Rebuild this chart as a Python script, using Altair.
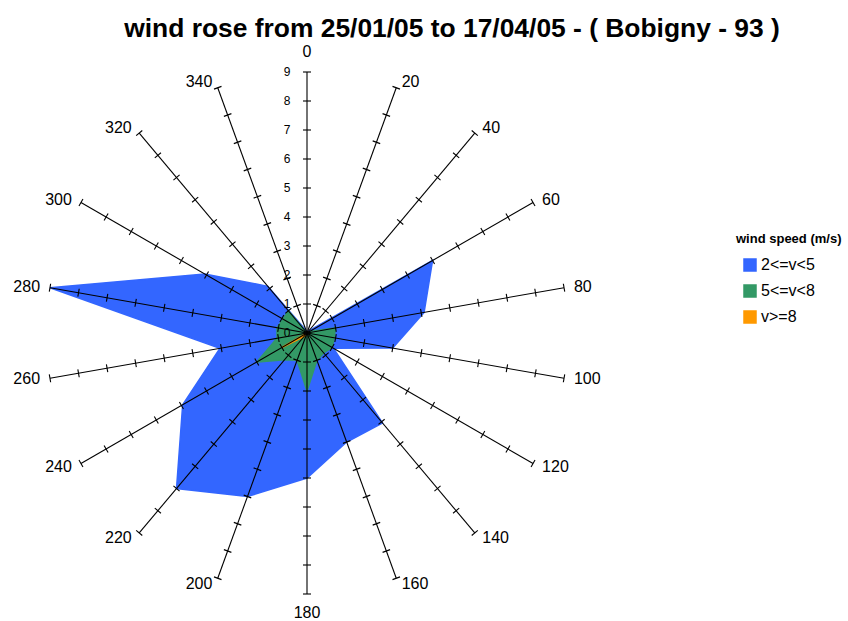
import altair as alt
import pandas as pd

# ---- data -------------------------------------------------------------
directions = [0, 20, 40, 60, 80, 100, 120, 140, 160, 180,
              200, 220, 240, 260, 280, 300, 320, 340]
speed_2_5 = [0.0, 0.0, 0.1, 5.0, 4.1, 3.0, 1.05, 4.05, 4.0, 5.0,
             6.0, 7.0, 4.95, 3.05, 9.0, 4.07, 2.1, 0.1]
speed_5_8 = [0.0, 0.0, 0.0, 0.1, 1.0, 0.95, 1.0, 0.9, 1.0, 2.0,
             1.0, 1.2, 2.0, 1.05, 1.05, 0.95, 1.0, 0.0]
speed_8 = [0.0, 0.0, 0.0, 0.0, 0.0, 0.0, 0.0, 0.0, 0.0, 0.0,
           0.0, 0.15, 1.0, 0.0, 0.0, 0.0, 0.0, 0.0]
series_names = ["2<=v<5", "5<=v<8", "v>=8"]
series_colors = ["#3366FF", "#339966", "#FF9900"]
series_outline = [1.5, 1.5, 3.5]
radial_ticks = [0, 1, 2, 3, 4, 5, 6, 7, 8, 9]
title_text = "wind rose from 25/01/05 to 17/04/05 - ( Bobigny - 93 )"
legend_title = "wind speed (m/s)"

# ---- layout -----------------------------------------------------------
W, H = 848, 621
CX, CY = 307, 333          # pole position in pixels
UNIT = 29.0                # pixels per unit of radius
R_MAX = max(radial_ticks)
FONT = "Liberation Sans"

x_scale = alt.Scale(domain=[-CX / UNIT, (W - CX) / UNIT], zero=False, nice=False)
y_scale = alt.Scale(domain=[-(H - CY) / UNIT, CY / UNIT], zero=False, nice=False)


def X(field):
    return alt.X(field, type="quantitative", scale=x_scale, axis=None)


def Y(field):
    return alt.Y(field, type="quantitative", scale=y_scale, axis=None)


rad = "datum.direction * PI / 180"

# ---- tables built from the lists ---------------------------------------
rows = []
for name, values in zip(series_names, [speed_2_5, speed_5_8, speed_8]):
    for d, v in zip(directions, values):
        rows.append({"series": name, "direction": d, "value": v})
series_df = pd.DataFrame(rows)

dir_df = pd.DataFrame({"direction": directions})
tick_df = pd.DataFrame([{"direction": d, "k": k}
                        for d in directions for k in radial_ticks if k > 0])
rlab_df = pd.DataFrame({"k": radial_ticks})

# ---- filled polygons --------------------------------------------------
polys = alt.Chart(series_df).transform_calculate(
    px=f"datum.value * sin({rad})",
    py=f"datum.value * cos({rad})",
).mark_line(interpolate="linear-closed").encode(
    x=X("px"),
    y=Y("py"),
    order=alt.Order("direction:Q"),
    fill=alt.Fill("series:N", title=None,
                  scale=alt.Scale(domain=series_names, range=series_colors),
                  legend=alt.Legend(orient="none", legendX=742, legendY=257,
                                    symbolType="square", symbolSize=144,
                                    symbolStrokeWidth=0, labelFont=FONT,
                                    labelFontSize=16, labelColor="black",
                                    labelOffset=3, rowPadding=8, padding=0)),
    stroke=alt.Stroke("series:N",
                      scale=alt.Scale(domain=series_names, range=series_colors),
                      legend=None),
    strokeWidth=alt.StrokeWidth("series:N",
                                scale=alt.Scale(domain=series_names,
                                                range=series_outline),
                                legend=None),
)

# ---- spokes -----------------------------------------------------------
spokes = alt.Chart(dir_df).transform_calculate(
    x0="0", y0="0",
    x1=f"{R_MAX} * sin({rad})",
    y1=f"{R_MAX} * cos({rad})",
).mark_rule(color="black", strokeWidth=1.1).encode(
    x=X("x0"), y=Y("y0"), x2="x1:Q", y2="y1:Q"
)

half = 4.0 / UNIT
ticks = alt.Chart(tick_df).transform_calculate(
    cx=f"datum.k * sin({rad})",
    cy=f"datum.k * cos({rad})",
).transform_calculate(
    tx1=f"datum.cx + {half} * cos({rad})",
    ty1=f"datum.cy - {half} * sin({rad})",
    tx2=f"datum.cx - {half} * cos({rad})",
    ty2=f"datum.cy + {half} * sin({rad})",
).mark_rule(color="black", strokeWidth=1.1).encode(
    x=X("tx1"), y=Y("ty1"), x2="tx2:Q", y2="ty2:Q"
)

# ---- radial value labels on the north spoke ---------------------------
rlabels = alt.Chart(rlab_df).transform_calculate(
    lx=str(-16.5 / UNIT)
).mark_text(align="right", baseline="middle", font=FONT, fontSize=12,
            color="black").encode(
    x=X("lx"), y=Y("k"), text="k:N"
)

# ---- direction labels -------------------------------------------------
side_dx = f"(3 + 7 * abs(sin({rad}))) / {UNIT}"
dir_base = alt.Chart(dir_df).transform_calculate(
    sx=f"{R_MAX} * sin({rad})",
    sy=f"({R_MAX} + 6 / {UNIT}) * cos({rad})",
)
lab_right = dir_base.transform_filter(
    "datum.direction > 0 && datum.direction < 180"
).transform_calculate(lx=f"datum.sx + {side_dx}").mark_text(
    align="left", baseline="middle", font=FONT, fontSize=16, color="black"
).encode(x=X("lx"), y=Y("sy"), text="direction:N")

lab_left = dir_base.transform_filter(
    "datum.direction > 180"
).transform_calculate(lx=f"datum.sx - {side_dx}").mark_text(
    align="right", baseline="middle", font=FONT, fontSize=16, color="black"
).encode(x=X("lx"), y=Y("sy"), text="direction:N")

lab_top = dir_base.transform_filter("datum.direction == 0").transform_calculate(
    lx="0", ly=f"{R_MAX} + 15 / {UNIT}"
).mark_text(align="center", baseline="alphabetic", font=FONT, fontSize=16,
            color="black").encode(x=X("lx"), y=Y("ly"), text="direction:N")

lab_bottom = dir_base.transform_filter("datum.direction == 180").transform_calculate(
    lx="0", ly=f"-({R_MAX} + 24 / {UNIT})"
).mark_text(align="center", baseline="alphabetic", font=FONT, fontSize=16,
            color="black").encode(x=X("lx"), y=Y("ly"), text="direction:N")

# ---- title and legend heading -----------------------------------------
head_df = pd.DataFrame({
    "text": [title_text],
    "hx": [(452 - CX) / UNIT],
    "hy": [(CY - 37) / UNIT],
})
title = alt.Chart(head_df).mark_text(
    align="center", baseline="alphabetic", font=FONT, fontSize=26.4,
    fontWeight="bold", color="black"
).encode(x=X("hx"), y=Y("hy"), text="text:N")

leg_df = pd.DataFrame({
    "text": [legend_title],
    "hx": [(736 - CX) / UNIT],
    "hy": [(CY - 243) / UNIT],
})
leg_title = alt.Chart(leg_df).mark_text(
    align="left", baseline="alphabetic", font=FONT, fontSize=13,
    fontWeight="bold", color="black"
).encode(x=X("hx"), y=Y("hy"), text="text:N")

chart = alt.layer(
    polys, spokes, ticks, rlabels, lab_right, lab_left, lab_top, lab_bottom,
    title, leg_title
).properties(
    width=W, height=H, autosize=alt.AutoSizeParams(type="none"),
    padding=0, background="white"
).configure_view(stroke=None)

chart.save("out.html", embed_options={"renderer": "svg", "actions": False})
